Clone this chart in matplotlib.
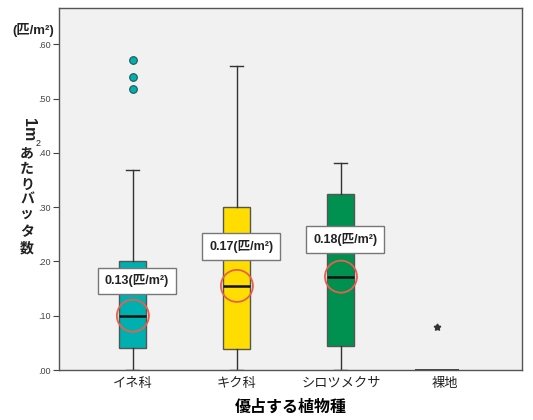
import matplotlib
matplotlib.use("Agg")
import matplotlib.pyplot as plt
from matplotlib.patches import Ellipse

plt.rcParams['font.family'] = ['Noto Sans CJK JP', 'DejaVu Sans']
LAT = ['Liberation Sans', 'Noto Sans CJK JP']

categories = ['イネ科', 'キク科', 'シロツメクサ', '裸地']
whislo = [0.0, 0.0, 0.0, 0.0]
q1 = [0.040, 0.039, 0.044, 0.0]
med = [0.100, 0.155, 0.172, 0.0]
q3 = [0.200, 0.300, 0.324, 0.0]
whishi = [0.368, 0.560, 0.382, 0.0]
outliers_circle = [[0.517, 0.540, 0.571], [], [], []]
outliers_star = [[], [], [], [0.079]]
mean_labels = ['0.13(匹/m²)', '0.17(匹/m²)', '0.18(匹/m²)', None]
label_y = [0.164, 0.227, 0.241, None]
colors = ['#00AFAF', '#FFDD00', '#009150', '#999999']
yticks = [0.0, 0.1, 0.2, 0.3, 0.4, 0.5, 0.6]
yticklabels = ['.00', '.10', '.20', '.30', '.40', '.50', '.60']

fig = plt.figure(figsize=(5.33, 4.2), dpi=100)
ax = fig.add_axes([59/533, 1-370/420, (522-59)/533, (370-8)/420])
ax.set_facecolor('#f1f1f1')

pos = [1, 2, 3, 4]
stats = []
for i in range(4):
    stats.append(dict(med=med[i], q1=q1[i], q3=q3[i], whislo=whislo[i],
                      whishi=whishi[i], fliers=[]))
bp = ax.bxp(stats, positions=pos, widths=0.26, patch_artist=True,
            showfliers=False,
            boxprops=dict(edgecolor='#555555', linewidth=1.0),
            medianprops=dict(color='#111111', linewidth=1.8),
            whiskerprops=dict(color='#333333', linewidth=1.0),
            capprops=dict(color='#333333', linewidth=1.0),
            capwidths=0.125)
for patch, c in zip(bp['boxes'], colors):
    patch.set_facecolor(c)
# empty group (all zero): just horizontal line
bp['boxes'][3].set_visible(False)
bp['caps'][6].set_visible(False)
bp['caps'][7].set_visible(False)
bp['medians'][3].set_xdata([3.71, 4.13])
bp['medians'][3].set_linewidth(1.3)
bp['medians'][3].set_color('#333333')

for i in range(4):
    for v in outliers_circle[i]:
        ax.plot(pos[i], v, 'o', ms=5.5, mfc=colors[i], mec='#225555', mew=0.8, zorder=5)
    for v in outliers_star[i]:
        ax.plot(pos[i] - 0.08, v, marker=(5, 1, 0), ms=5, color='#333333', ls='none', zorder=5)

ax.set_xlim(0.29, 4.74)
ax.set_ylim(0, 0.667)

# red circles around medians
for i in range(3):
    circ = Ellipse((pos[i], med[i]), width=32 * (4.45 / 463), height=32 * (0.667 / 362),
                   facecolor='none', edgecolor='#E8604C', linewidth=1.3, zorder=6)
    ax.add_patch(circ)

# mean labels
for i in range(3):
    ax.text(pos[i] + 0.04, label_y[i], mean_labels[i], ha='center', va='center',
            fontsize=9, fontweight='bold', color='#222222', zorder=7, family=LAT,
            bbox=dict(boxstyle='square,pad=0.55', facecolor='white',
                      edgecolor='#777777', linewidth=1.0))

ax.set_yticks(yticks)
ax.set_yticklabels(yticklabels, fontsize=6.5, color='#444444', family=LAT)
ax.set_xticks(pos)
ax.set_xticklabels(categories, fontsize=9.5, color='#222222')
ax.tick_params(axis='x', length=0, pad=5)
ax.tick_params(axis='y', length=4, color='#444444', pad=2)
for s in ax.spines.values():
    s.set_color('#555555')
    s.set_linewidth(1.0)

ax.set_xlabel('優占する植物種', fontsize=11.5, fontweight='bold', labelpad=6)

# unit label
fig.text(12/533, 1-30/420, '(匹/m²)', fontsize=9.5, fontweight='bold', ha='left', va='center',
         color='#222222', family=LAT)

# vertical y-label, characters upright
fig.text(28/533, 1-130/420, '1m', fontsize=11.5, fontweight='bold', rotation=-90,
         ha='center', va='center', color='#222222', family=LAT)
fig.text(38/533, 1-143/420, '2', fontsize=6.5, ha='center', va='center', color='#222222',
         family=LAT)
ychars = ['あ', 'た', 'り', 'バ', 'ッ', 'タ', '数']
ypix = [153, 169, 185, 200, 214, 232, 249]
for ch, yp in zip(ychars, ypix):
    fig.text(27/533, 1-yp/420, ch, fontsize=10, fontweight='bold', ha='center', va='center',
             color='#222222')

fig.savefig('out.png', dpi=100, facecolor='white')
